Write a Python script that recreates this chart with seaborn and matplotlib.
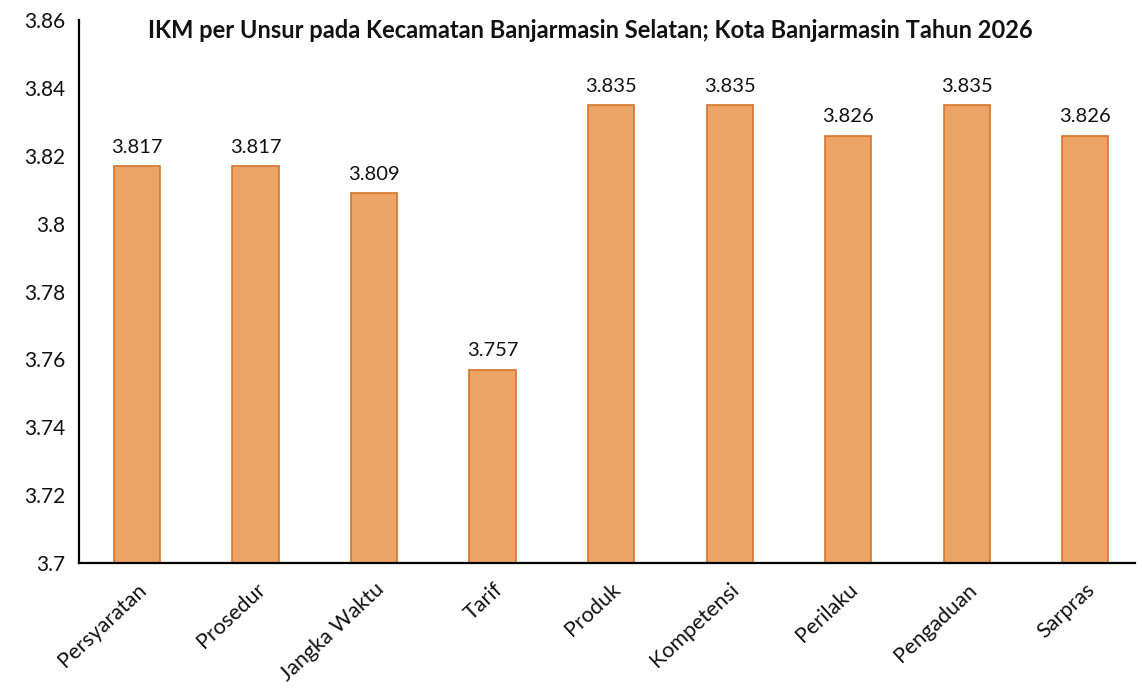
import numpy as np
import pandas as pd
import matplotlib
matplotlib.use("Agg")
import matplotlib.pyplot as plt
import seaborn as sns

# data
UNSUR = ["Persyaratan", "Prosedur", "Jangka Waktu", "Tarif", "Produk",
         "Kompetensi", "Perilaku", "Pengaduan", "Sarpras"]
NILAI = [3.817, 3.817, 3.809, 3.757, 3.835, 3.835, 3.826, 3.835, 3.826]
Y_TICKS = [3.7, 3.72, 3.74, 3.76, 3.78, 3.8, 3.82, 3.84, 3.86]
TITLE = "IKM per Unsur pada Kecamatan Banjarmasin Selatan; Kota Banjarmasin Tahun 2026"

FILL = "#EDA363"
EDGE = "#D2752A"

sns.set_theme(style="white")
plt.rcParams["font.family"] = ["Lato", "DejaVu Sans"]

df = pd.DataFrame({"unsur": UNSUR, "nilai": NILAI})

fig = plt.figure(figsize=(11.42, 7.0), dpi=100)
ax = fig.add_axes([0.069, 0.196, 0.925, 0.775])

sns.barplot(data=df, x="unsur", y="nilai", ax=ax, color=FILL,
            width=0.39, edgecolor=EDGE, linewidth=1.2, saturation=1)

ax.set_ylim(3.7, 3.86)
ax.set_xlim(-0.49, 8.42)
ax.set_yticks(Y_TICKS)
ax.set_yticklabels([f"{t:g}" for t in Y_TICKS], fontsize=15, color="#111111")
ax.set_xticks(range(len(UNSUR)))
ax.set_xticklabels(UNSUR, rotation=43, ha="right", rotation_mode="anchor",
                   fontsize=15.5, color="#111111")
ax.tick_params(axis="y", length=0, pad=10)
ax.tick_params(axis="x", length=0, pad=12)
ax.set_xlabel("")
ax.set_ylabel("")

for s in ["top", "right"]:
    ax.spines[s].set_visible(False)
for s in ["left", "bottom"]:
    ax.spines[s].set_color("black")
    ax.spines[s].set_linewidth(1.6)

for i, v in enumerate(NILAI):
    ax.text(i, v + 0.003, f"{v:.3f}", ha="center", va="bottom", fontsize=14.5,
            color="#111111")

fig.text(0.517, 0.957, TITLE, ha="center", va="center", fontsize=17,
         fontweight="bold", color="#111111")

fig.savefig("out.png", dpi=100, facecolor="white")
